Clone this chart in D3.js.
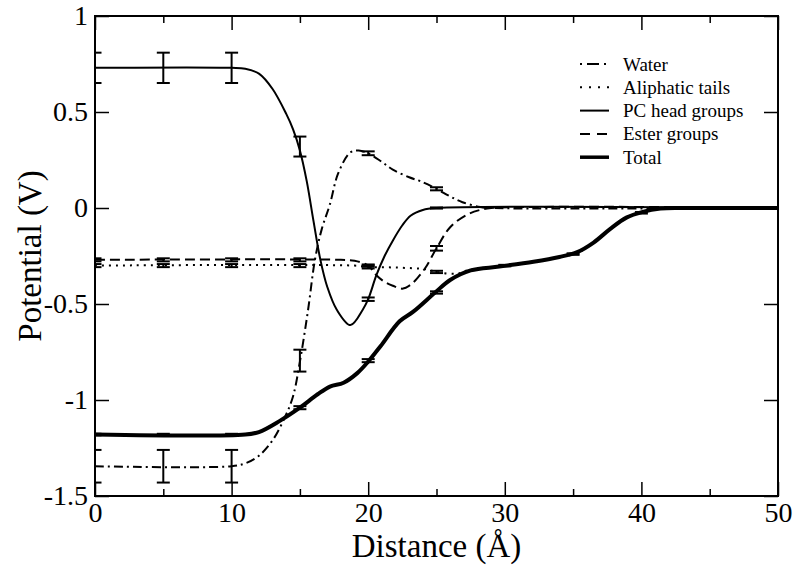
<!DOCTYPE html>
<html><head><meta charset="utf-8">
<script src="https://cdn.jsdelivr.net/npm/d3@7/dist/d3.min.js"></script>
<style>body{margin:0;background:#fff}svg{display:block}</style>
</head><body>
<svg id="chart" width="800" height="575"></svg>
<script>
// ---- data ----
const seriesNames = ["Water", "Aliphatic tails", "PC head groups", "Ester groups", "Total"];

const waterX = [0, 10, 11, 12, 13, 13.9, 14.5, 15, 15.6, 16.1, 16.6, 17.2, 17.8, 18.7, 19.3, 20, 21, 21.8, 23, 23.8, 25, 26, 26.9, 28.2, 29, 50];
const waterY = [-1.345, -1.345, -1.33, -1.29, -1.21, -1.09, -0.98, -0.80, -0.53, -0.27, -0.11, 0.02, 0.18, 0.29, 0.30, 0.285, 0.24, 0.20, 0.16, 0.14, 0.10, 0.06, 0.03, 0.005, 0, 0];

const aliphX = [0, 19, 20, 22, 24.3, 25, 26.5, 27.5, 29.6, 32.1, 34, 35.3, 36.5, 37.7, 38.9, 40.1, 41.4, 43, 50];
const aliphY = [-0.30, -0.30, -0.307, -0.31, -0.32, -0.333, -0.342, -0.32, -0.305, -0.28, -0.255, -0.235, -0.18, -0.11, -0.05, -0.02, -0.003, 0, 0];

const pcX = [0, 10, 11, 12, 13, 14, 14.5, 15, 15.5, 16, 16.5, 17, 17.7, 18.7, 19.6, 20, 20.6, 21.2, 21.8, 22.5, 23.1, 24, 25, 50];
const pcY = [0.73, 0.73, 0.725, 0.70, 0.62, 0.49, 0.41, 0.30, 0.14, -0.07, -0.27, -0.41, -0.53, -0.61, -0.53, -0.475, -0.35, -0.25, -0.17, -0.09, -0.04, -0.01, 0, 0];

const esterX = [0, 18, 19, 20, 20.6, 21.2, 21.8, 22.5, 23.1, 23.6, 24.2, 25, 26, 27.2, 28.2, 29, 50];
const esterY = [-0.27, -0.27, -0.275, -0.30, -0.35, -0.385, -0.405, -0.42, -0.40, -0.365, -0.31, -0.21, -0.10, -0.036, -0.01, 0, 0];

const totalX = [0, 11, 12, 13.5, 15, 16.3, 17.2, 18.2, 19.2, 20, 20.9, 22.3, 23.3, 24.9, 26, 27.5, 29.6, 32.1, 34, 35.3, 36.5, 37.7, 38.9, 40.1, 41.4, 43, 50];
const totalY = [-1.18, -1.18, -1.167, -1.11, -1.04, -0.97, -0.93, -0.91, -0.86, -0.80, -0.72, -0.59, -0.54, -0.44, -0.375, -0.325, -0.305, -0.28, -0.255, -0.23, -0.18, -0.11, -0.05, -0.02, -0.003, 0, 0];

// error bars: x positions, centre values, half-widths
const waterErrX = [0, 5, 10, 15, 20, 25];
const waterErrY = [-1.345, -1.345, -1.345, -0.795, 0.285, 0.10];
const waterErrE = [0.085, 0.085, 0.085, 0.057, 0.01, 0.008];

const aliphErrX = [0, 5, 10, 15, 20, 25];
const aliphErrY = [-0.30, -0.30, -0.30, -0.30, -0.307, -0.333];
const aliphErrE = [0.008, 0.008, 0.008, 0.008, 0.008, 0.006];

const pcErrX = [0, 5, 10, 15, 20, 25];
const pcErrY = [0.73, 0.73, 0.73, 0.32, -0.475, 0];
const pcErrE = [0.079, 0.079, 0.079, 0.052, 0.009, 0.003];

const esterErrX = [0, 5, 10, 15, 20, 25];
const esterErrY = [-0.27, -0.27, -0.27, -0.27, -0.30, -0.21];
const esterErrE = [0.008, 0.008, 0.008, 0.008, 0.006, 0.012];

const totalErrX = [0, 5, 10, 15, 20, 25, 30, 35, 40];
const totalErrY = [-1.18, -1.18, -1.18, -1.04, -0.795, -0.44, -0.30, -0.24, -0.025];
const totalErrE = [0.004, 0.004, 0.004, 0.008, 0.008, 0.006, 0.004, 0.004, 0.004];

const xMajorTicks = [0, 10, 20, 30, 40, 50];
const xMinorTicks = [5, 15, 25, 35, 45];
const yTicks = [-1.5, -1, -0.5, 0, 0.5, 1];
const yTickLabels = ["-1.5", "-1", "-0.5", "0", "0.5", "1"];

// ---- layout ----
const L = 95, R = 778, T = 16, B = 496;
const FONT = "Liberation Serif";
const svg = d3.select("#chart");
const x = d3.scaleLinear().domain([0, 50]).range([L, R]);
const y = d3.scaleLinear().domain([-1.5, 1]).range([B, T]);

svg.append("defs").append("clipPath").attr("id", "clip")
  .append("rect").attr("x", L).attr("y", T).attr("width", R - L).attr("height", B - T);

const series = [
  {name: seriesNames[0], xs: waterX, ys: waterY, ex: waterErrX, ey: waterErrY, ee: waterErrE, w: 2, dash: "9,4,2,4"},
  {name: seriesNames[1], xs: aliphX, ys: aliphY, ex: aliphErrX, ey: aliphErrY, ee: aliphErrE, w: 2, dash: "2,5"},
  {name: seriesNames[2], xs: pcX, ys: pcY, ex: pcErrX, ey: pcErrY, ee: pcErrE, w: 2, dash: null},
  {name: seriesNames[3], xs: esterX, ys: esterY, ex: esterErrX, ey: esterErrY, ee: esterErrE, w: 2, dash: "10,5"},
  {name: seriesNames[4], xs: totalX, ys: totalY, ex: totalErrX, ey: totalErrY, ee: totalErrE, w: 4, dash: null}
];
const legendDash = ["2,5,12,5,2,40", "2,7", null, "10,7", null];

const line = d3.line().x(d => x(d[0])).y(d => y(d[1])).curve(d3.curveCatmullRom.alpha(0.5));
const plot = svg.append("g").attr("clip-path", "url(#clip)");

series.forEach(s => {
  const pts = s.xs.map((v, i) => [v, s.ys[i]]);
  plot.append("path").datum(pts).attr("d", line)
    .attr("fill", "none").attr("stroke", "#000").attr("stroke-width", s.w)
    .attr("stroke-dasharray", s.dash).attr("stroke-linejoin", "round");
});

series.forEach(s => {
  const g = plot.append("g").attr("stroke", "#000").attr("stroke-width", 2);
  s.ex.forEach((xv, i) => {
    const lo = y(s.ey[i] - s.ee[i]), hi = y(s.ey[i] + s.ee[i]), cx = x(xv);
    g.append("line").attr("x1", cx).attr("x2", cx).attr("y1", lo).attr("y2", hi);
    g.append("line").attr("x1", cx - 6.5).attr("x2", cx + 6.5).attr("y1", lo).attr("y2", lo);
    g.append("line").attr("x1", cx - 6.5).attr("x2", cx + 6.5).attr("y1", hi).attr("y2", hi);
  });
});

// ---- axes ----
function styleAxis(g) {
  g.select(".domain").remove();
  g.selectAll(".tick line").attr("stroke", "#000").attr("stroke-width", 1.5);
  g.selectAll("text").style("font-family", FONT).attr("font-size", 28).attr("fill", "#000");
}
svg.append("g").attr("transform", `translate(0,${B})`)
  .call(d3.axisBottom(x).tickValues(xMajorTicks).tickSize(-14).tickPadding(6).tickFormat(d3.format("d")))
  .call(styleAxis);
svg.append("g").attr("transform", `translate(0,${B})`)
  .call(d3.axisBottom(x).tickValues(xMinorTicks).tickSize(-7).tickFormat(""))
  .call(styleAxis);
svg.append("g").attr("transform", `translate(0,${T})`)
  .call(d3.axisTop(x).tickValues(xMajorTicks).tickSize(-14).tickFormat(""))
  .call(styleAxis);
svg.append("g").attr("transform", `translate(0,${T})`)
  .call(d3.axisTop(x).tickValues(xMinorTicks).tickSize(-7).tickFormat(""))
  .call(styleAxis);
svg.append("g").attr("transform", `translate(${L},0)`)
  .call(d3.axisLeft(y).tickValues(yTicks).tickSize(-14).tickPadding(7).tickFormat((d, i) => yTickLabels[i]))
  .call(styleAxis);
svg.append("g").attr("transform", `translate(${R},0)`)
  .call(d3.axisRight(y).tickValues(yTicks).tickSize(-14).tickFormat(""))
  .call(styleAxis);

svg.append("rect").attr("x", L).attr("y", T).attr("width", R - L).attr("height", B - T)
  .attr("fill", "none").attr("stroke", "#000").attr("stroke-width", 2);

// axis titles
svg.append("text").attr("x", (L + R) / 2).attr("y", 557).attr("text-anchor", "middle")
  .style("font-family", FONT).attr("font-size", 33).text("Distance (Å)");
svg.append("text").attr("transform", `translate(41,${(T + B) / 2}) rotate(-90)`).attr("text-anchor", "middle")
  .style("font-family", FONT).attr("font-size", 33).text("Potential (V)");

// legend
const leg = svg.append("g");
series.forEach((s, i) => {
  const yy = 64 + i * 23.3;
  leg.append("line").attr("x1", 580).attr("x2", 609).attr("y1", yy).attr("y2", yy)
    .attr("stroke", "#000").attr("stroke-width", s.w === 4 ? 3.5 : 2)
    .attr("stroke-dasharray", legendDash[i]);
  leg.append("text").attr("x", 623).attr("y", yy + 6.5)
    .style("font-family", FONT).attr("font-size", 19).text(s.name);
});
</script>
</body></html>
